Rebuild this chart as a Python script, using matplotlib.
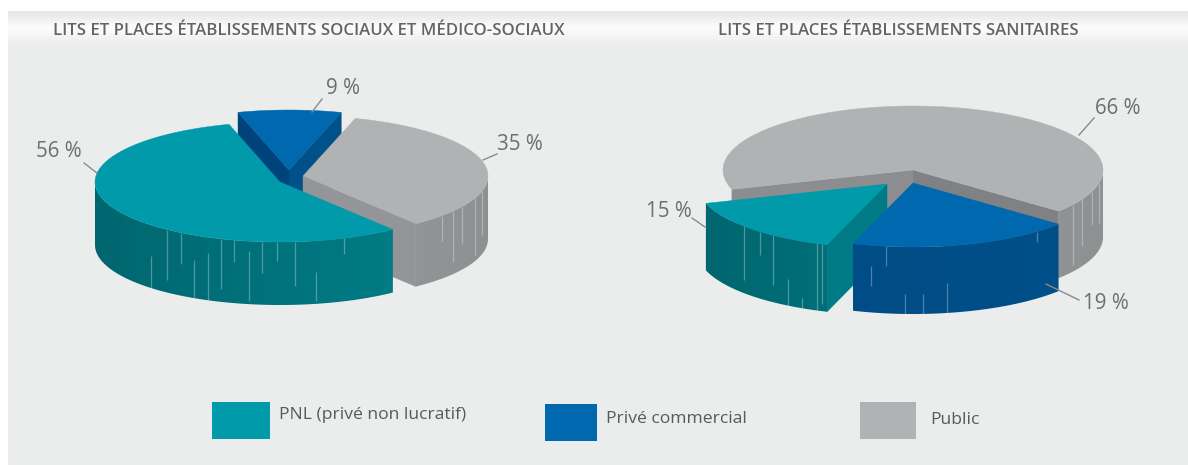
import numpy as np
import matplotlib
matplotlib.use("Agg")
import matplotlib.pyplot as plt
from matplotlib.patches import Polygon, Rectangle
from matplotlib.colors import to_rgb, LinearSegmentedColormap

plt.rcParams['font.family'] = ['Open Sans', 'DejaVu Sans']

categories = ["PNL (privé non lucratif)", "Privé commercial", "Public"]
titles = ["LITS ET PLACES ÉTABLISSEMENTS SOCIAUX ET MÉDICO-SOCIAUX",
          "LITS ET PLACES ÉTABLISSEMENTS SANITAIRES"]

# percentages, in the order the slices go round each pie
left_names = ["PNL", "Public", "Prive"]
left_values = [56, 35, 9]
right_names = ["Public", "PNL", "Prive"]
right_values = [66, 15, 19]

top_col = {"PNL": "#009aaa", "Prive": "#0068ae", "Public": "#b1b2b4"}
wall_col = {"PNL": ("#00666f", "#00808a"), "Prive": ("#004b85", "#005089"), "Public": ("#a2a3a5", "#8f9092")}


def pt(c, t, a, b):
    t = np.radians(t)
    return c[0] + a*np.cos(t), c[1] - b*np.sin(t)


def slab(ax, c, t0, t1, a, b, d, name, faces, streaks, z):
    # cut faces first, only the ones turned to the viewer
    for t, col in ((t0, faces[0]), (t1, faces[1])):
        if col is None:
            continue
        x, y = pt(c, t, a, b)
        ax.add_patch(Polygon([c, (x, y), (x, y+d), (c[0], c[1]+d)], fc=col, ec=col, lw=.3, zorder=z))
    # outer wall, only the front half of the ellipse shows
    lo, hi = t0 % 360, t0 % 360 + (t1-t0)
    cmap = LinearSegmentedColormap.from_list("w", [to_rgb(wall_col[name][0]), to_rgb(wall_col[name][1])])
    for k in (0, 360):
        s, e = max(lo+k, 180), min(hi+k, 360)
        if e <= s:
            continue
        ts = np.linspace(s, e, 120)
        front = [pt(c, t, a, b) for t in ts]
        back = [(x, y+d) for x, y in front[::-1]]
        poly = Polygon(front + back, fc="none", ec="none", zorder=z)
        ax.add_patch(poly)
        im = ax.imshow(np.linspace(0, 1, 256).reshape(1, -1), cmap=cmap, vmin=0, vmax=1, aspect="auto",
                       extent=(c[0]-a, c[0]+a, c[1]+b+d, c[1]-b), zorder=z)
        im.set_clip_path(poly)
    # pale scratches on the wall
    for u, f0, f1 in streaks:
        x = c[0] + a*u
        y = c[1] + b*np.sqrt(1-u*u)
        ax.plot([x, x], [y+f0*d, y+f1*d], color="white", alpha=.3, lw=.9, zorder=z, solid_capstyle='butt')
    ts = np.linspace(t0, t1, 200)
    ax.add_patch(Polygon([c] + [pt(c, t, a, b) for t in ts], fc=top_col[name], ec=top_col[name], lw=.3, zorder=z))


def pie3d(ax, names, values, start, centers, a, b, d, order, faces, streaks):
    angle = start
    spans = {}
    for n, v in zip(names, values):
        spans[n] = (angle, angle + 3.6*v)
        angle += 3.6*v
    for z, n in enumerate(order):
        slab(ax, centers[n], spans[n][0], spans[n][1], a, b, d, n, faces[n], streaks.get(n, []), z+2)


fig = plt.figure(figsize=(11.88, 4.65), dpi=100)
ax = fig.add_axes([0, 0, 1, 1])
ax.axis("off")

ax.add_patch(Rectangle((8, 11), 1180, 454, fc="#ebeded", ec="none", zorder=0))
grad = np.array([.905, .93, .96, .985, .975, .955, .935, .925]).reshape(-1, 1)
ax.imshow(grad, cmap="gray", vmin=0, vmax=1, extent=(8, 1188, 48, 11), aspect="auto", interpolation="bilinear", zorder=1)

ax.text(308.5, 31, titles[0], ha="center", va="center", fontsize=12.1, weight="semibold", color="#636466", zorder=10)
ax.text(898.5, 31, titles[1], ha="center", va="center", fontsize=12.1, weight="semibold", color="#636466", zorder=10)

pie3d(ax, left_names, left_values, 106,
      {"PNL": (280, 182), "Public": (303, 176), "Prive": (289, 170)}, 185, 60, 63,
      ["Prive", "Public", "PNL"],
      {"PNL": (None, None), "Public": ("#949598", None), "Prive": ("#005089", "#00437a")},
      {"PNL": [(-.70, .5, 1), (-.61, 0, .8), (-.536, 0, .5), (-.465, .4, 1), (-.39, .25, 1), (-.32, 0, .8),
               (-.25, 0, .35), (-.17, .15, .95), (-.097, 0, .5), (-.016, 0, .3), (.08, 0, .7), (.195, .5, .95), (.346, 0, .25)],
       "Public": [(.75, 0, .4), (.81, 0, .8), (.86, 0, .6), (.93, 0, .9), (.97, 0, .7)]})

pie3d(ax, right_names, right_values, -40,
      {"Public": (913, 170), "PNL": (887, 184), "Prive": (913, 183)}, 190, 64, 67,
      ["Public", "PNL", "Prive"],
      {"Public": ("#808184", "#8c8d90"), "PNL": (None, "#007a85"), "Prive": (None, None)},
      {"Public": [(.84, 0, .9), (.89, 0, .7), (.94, 0, .5), (.98, 0, .6)],
       "PNL": [(-.755, 0, .8), (-.67, 0, .35), (-.6, 0, .75), (-.52, .6, 1), (-.45, .85, 1), (-.37, 0, 1), (-.34, 0, .9)],
       "Prive": [(-.22, .3, .6), (-.14, 0, .3), (-.04, .7, 1), (.05, .7, 1), (.18, .55, 1), (.65, 0, .15)]})

# value labels with their small leader lines
labels = ["56 %", "9 %", "35 %", "66 %", "15 %", "19 %"]
label_xy = [(59, 151), (343, 88), (520, 144), (1118, 108), (669, 211), (1106, 303)]
leaders = [((84, 163), (97, 173)), ((322, 99), (312, 112)), ((497, 154), (483, 160)),
           ((1094, 118), (1079, 135)), ((692, 218), (705, 227)), ((1079, 300), (1046, 284))]
for s, xy, l in zip(labels, label_xy, leaders):
    ax.text(xy[0], xy[1], s, ha="center", va="center", fontsize=14.8, color="#6d6e71", zorder=12)
    ax.plot([l[0][0], l[1][0]], [l[0][1], l[1][1]], color="#8a8b8d", lw=1, zorder=12)

# legend
boxes = [(212, 402, 58, 37), (545, 404, 52, 37), (860, 402, 56, 37)]
box_cols = ["PNL", "Prive", "Public"]
text_xy = [(279, 415), (606, 419), (930, 420)]
for cat, box, n, xy in zip(categories, boxes, box_cols, text_xy):
    ax.add_patch(Rectangle(box[:2], box[2], box[3], fc=top_col[n], ec="none", zorder=5))
    ax.text(xy[0], xy[1], cat, ha="left", va="center", fontsize=12.6, color="#58595b", zorder=5)

ax.set_xlim(0, 1188)
ax.set_ylim(465, 0)
fig.savefig("out.png", dpi=100, facecolor="white")
